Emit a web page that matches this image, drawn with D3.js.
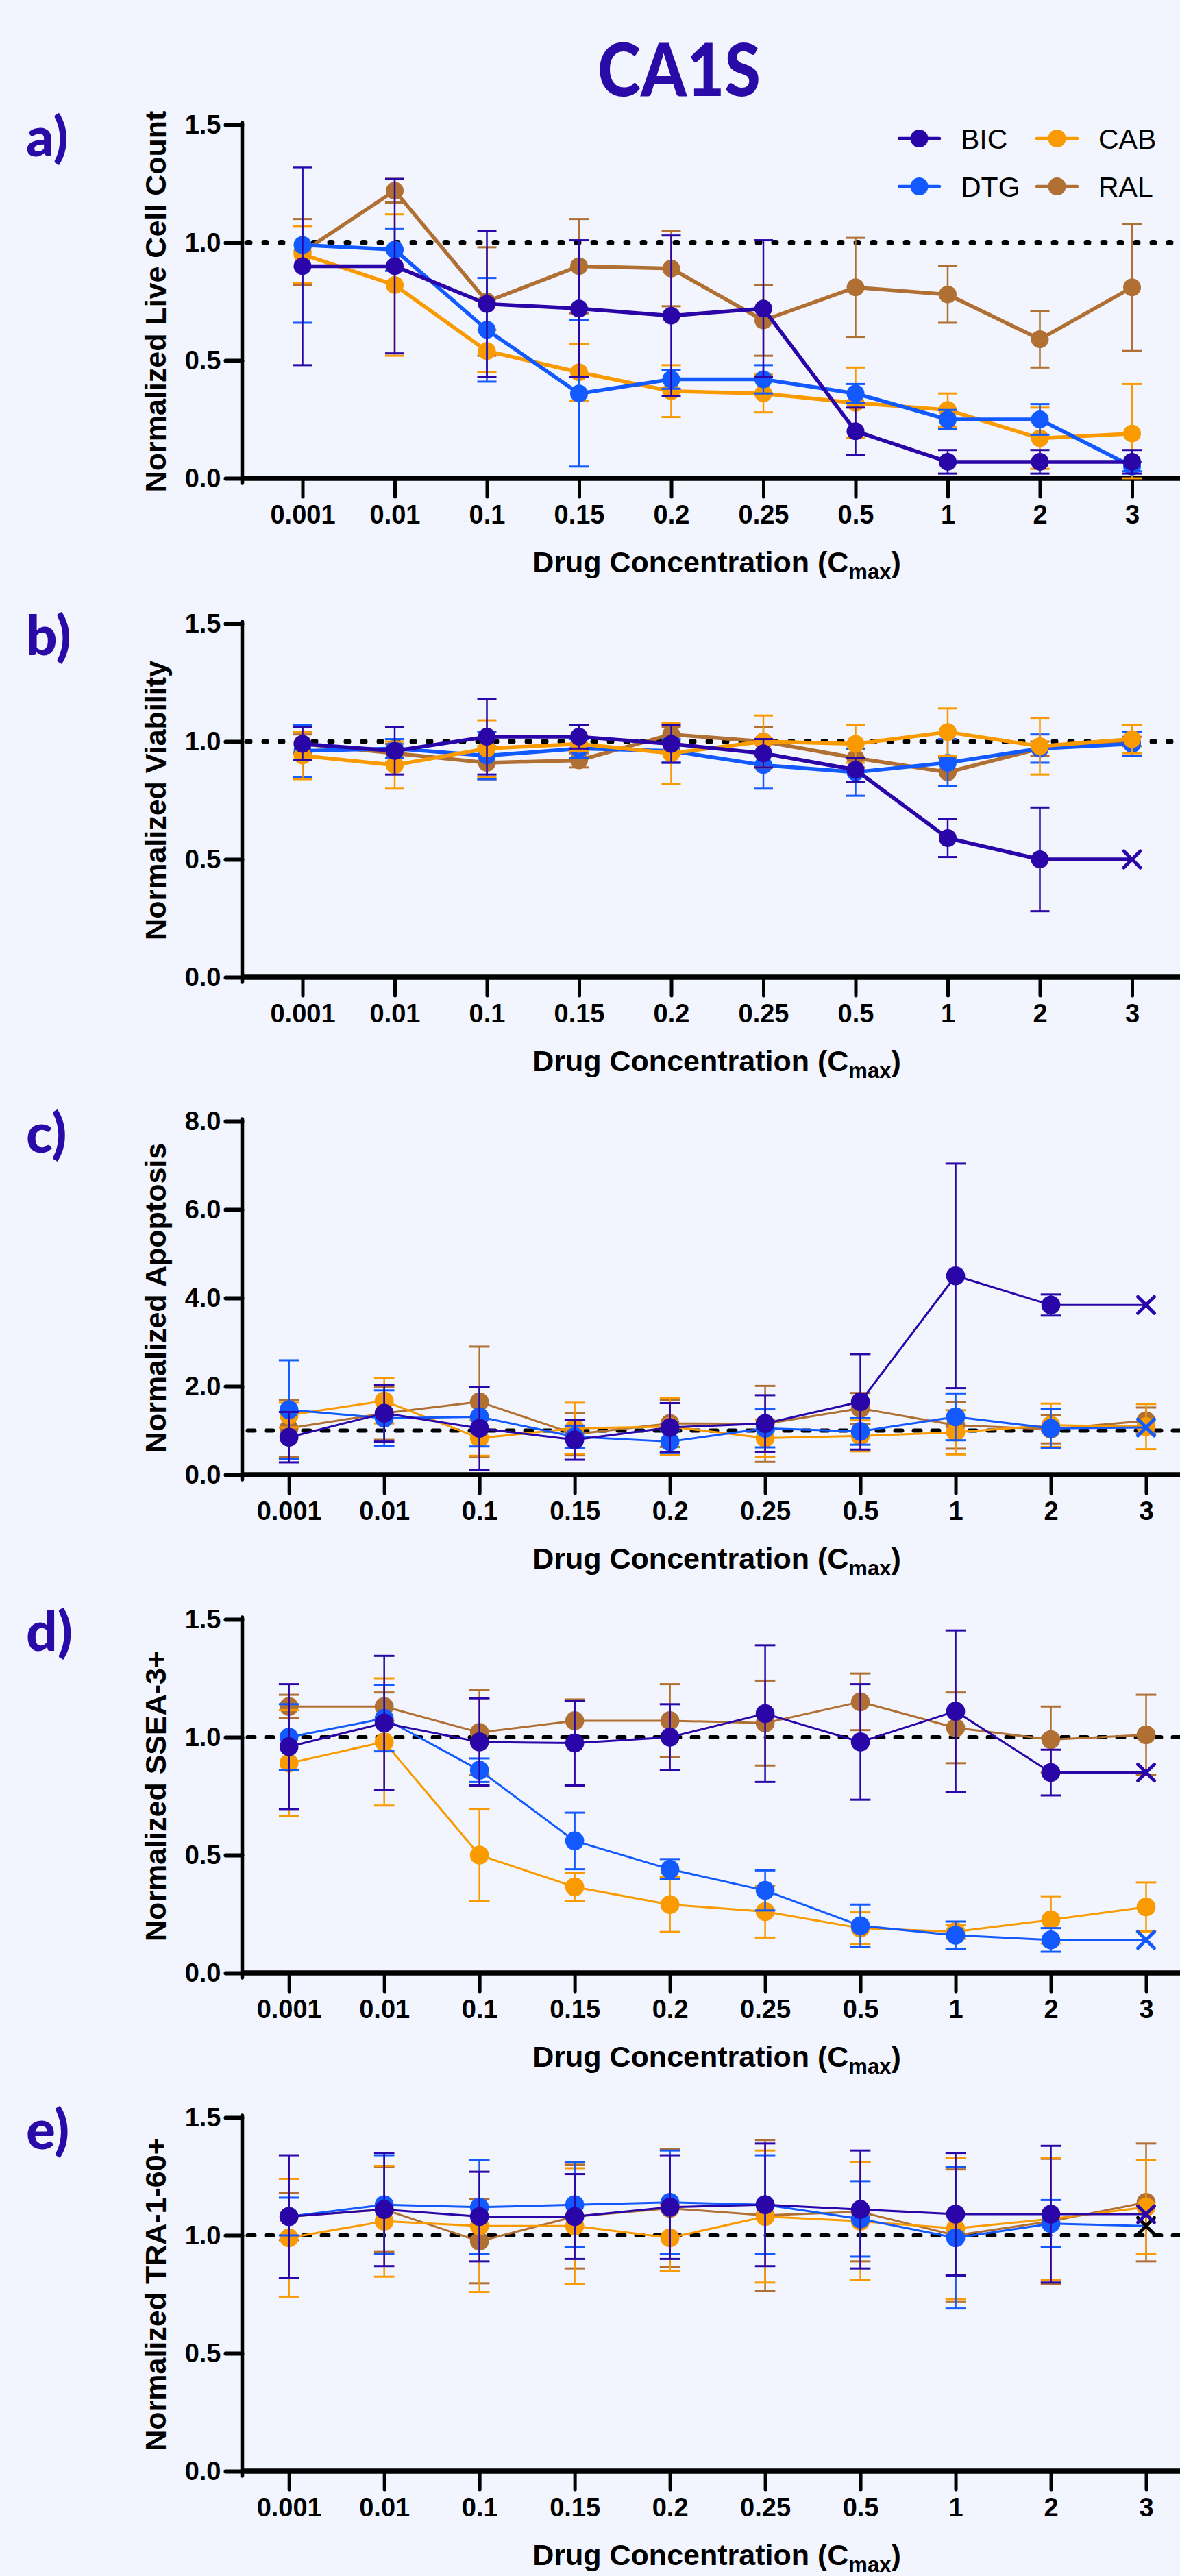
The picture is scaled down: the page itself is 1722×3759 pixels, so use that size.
<!DOCTYPE html>
<html><head><meta charset="utf-8">
<script src="https://cdn.jsdelivr.net/npm/d3@7"></script>
<style>
html,body{margin:0;padding:0;background:#F2F5FE;}
svg{display:block;}
</style></head><body>
<svg id="chart" width="1722" height="3759"></svg>
<script>
// ---------- DATA ----------
const categories = ["0.001","0.01","0.1","0.15","0.2","0.25","0.5","1","2","3"];
const seriesNames = ["BIC","DTG","CAB","RAL"];
const chartTitle = "CA1S";
const xAxisTitle = ["Drug Concentration (C", "max", ")"];

// a) Normalized Live Cell Count
const liveBIC    = [0.90,0.90,0.74,0.72,0.69,0.72,0.20,0.07,0.07,0.07];
const liveBICErr = [0.42,0.37,0.31,0.29,0.34,0.29,0.10,0.05,0.05,0.05];
const liveDTG    = [0.99,0.97,0.63,0.36,0.42,0.42,0.36,0.25,0.25,0.05];
const liveDTGErr = [0.33,0.09,0.22,0.31,0.04,0.06,0.04,0.04,0.065,0.02];
const liveCAB    = [0.95,0.82,0.54,0.45,0.37,0.36,0.32,0.29,0.17,0.19];
const liveCABErr = [0.12,0.30,0.09,0.12,0.11,0.08,0.15,0.07,0.13,0.21];
const liveRAL    = [0.96,1.22,0.75,0.90,0.89,0.67,0.81,0.78,0.59,0.81];
const liveRALErr = [0.14,0.05,0.23,0.20,0.16,0.15,0.21,0.12,0.12,0.27];

// b) Normalized Viability
const viaBIC    = [0.99,0.96,1.02,1.02,0.99,0.95,0.88,0.59,0.50,0.50];
const viaBICErr = [0.07,0.10,0.16,0.05,0.08,0.06,0.05,0.08,0.22,null];
const viaDTG    = [0.96,0.97,0.94,0.97,0.96,0.90,0.87,0.91,0.97,0.99];
const viaDTGErr = [0.11,0.04,0.10,0.04,0.05,0.10,0.10,0.10,0.06,0.05];
const viaCAB    = [0.94,0.90,0.97,0.99,0.95,1.00,0.99,1.04,0.98,1.01];
const viaCABErr = [0.10,0.10,0.12,0.03,0.13,0.11,0.08,0.10,0.12,0.06];
const viaRAL    = [0.99,0.95,0.91,0.92,1.03,1.00,0.93,0.87,0.97,1.00];
const viaRALErr = [0.04,0.04,0.07,0.03,0.03,0.06,0.04,0.06,0.03,0.02];

// c) Normalized Apoptosis
const apoBIC    = [0.85,1.39,1.05,0.79,1.07,1.16,1.65,4.50,3.84,3.84];
const apoBICErr = [0.57,0.64,0.94,0.45,0.55,0.64,1.08,2.54,0.24,null];
const apoDTG    = [1.47,1.28,1.31,0.86,0.75,1.05,0.98,1.31,1.05,1.07];
const apoDTGErr = [1.12,0.63,0.67,0.25,0.26,0.43,0.30,0.53,0.44,null];
const apoCAB    = [1.35,1.67,0.83,1.05,1.09,0.83,0.88,0.96,1.12,1.09];
const apoCABErr = [0.28,0.51,0.40,0.58,0.64,0.42,0.35,0.50,0.49,0.51];
const apoRAL    = [1.05,1.39,1.65,0.92,1.16,1.15,1.50,1.12,1.03,1.22];
const apoRALErr = [0.64,0.60,1.25,0.48,0.53,0.86,0.35,0.53,0.32,0.30];

// d) Normalized SSEA-3+
const sseaBIC    = [0.96,1.06,0.98,0.975,1.00,1.10,0.98,1.11,0.85,0.85];
const sseaBICErr = [0.265,0.285,0.185,0.18,0.14,0.29,0.245,0.343,0.097,null];
const sseaDTG    = [1.00,1.08,0.86,0.56,0.44,0.35,0.20,0.16,0.14,0.14];
const sseaDTGErr = [0.14,0.14,0.05,0.12,0.043,0.085,0.09,0.058,0.05,null];
const sseaCAB    = [0.89,0.98,0.50,0.365,0.29,0.26,0.19,0.175,0.225,0.28];
const sseaCABErr = [0.225,0.27,0.196,0.06,0.116,0.11,0.067,0.03,0.10,0.104];
const sseaRAL    = [1.13,1.13,1.02,1.07,1.07,1.06,1.15,1.04,0.99,1.01];
const sseaRALErr = [0.05,0.06,0.18,0.09,0.155,0.18,0.12,0.15,0.14,0.17];

// e) Normalized TRA-1-60+
const traBIC    = [1.08,1.11,1.08,1.08,1.12,1.13,1.11,1.09,1.09,1.09];
const traBICErr = [0.26,0.24,0.19,0.18,0.22,0.26,0.25,0.26,0.29,null];
const traDTG    = [1.08,1.13,1.12,1.13,1.14,1.13,1.07,0.99,1.05,1.04];
const traDTGErr = [0.08,0.21,0.20,0.18,0.22,0.21,0.16,0.30,0.10,null];
const traCAB    = [0.99,1.06,1.04,1.04,0.99,1.08,1.06,1.03,1.07,1.12];
const traCABErr = [0.25,0.235,0.28,0.245,0.14,0.28,0.25,0.30,0.26,0.20];
const traRAL    = [1.08,1.11,0.975,1.08,1.115,1.085,1.10,1.00,1.06,1.14];
const traRALErr = [0.10,0.18,0.178,0.22,0.25,0.32,0.21,0.28,0.265,0.25];

const yTicksRatio = [0, 0.5, 1.0, 1.5];
const yTicksApo = [0, 2, 4, 6, 8];

const panels = [
  {label:"a)", yTitle:"Normalized Live Cell Count", yMax:1.5, ticks:yTicksRatio,
   vals:{BIC:liveBIC,DTG:liveDTG,CAB:liveCAB,RAL:liveRAL},
   errs:{BIC:liveBICErr,DTG:liveDTGErr,CAB:liveCABErr,RAL:liveRALErr},
   crossLast:{}, order:["RAL","CAB","DTG","BIC"], legend:true},
  {label:"b)", yTitle:"Normalized Viability", yMax:1.5, ticks:yTicksRatio,
   vals:{BIC:viaBIC,DTG:viaDTG,CAB:viaCAB,RAL:viaRAL},
   errs:{BIC:viaBICErr,DTG:viaDTGErr,CAB:viaCABErr,RAL:viaRALErr},
   crossLast:{BIC:true}, order:["RAL","DTG","CAB","BIC"]},
  {label:"c)", yTitle:"Normalized Apoptosis", yMax:8, ticks:yTicksApo,
   vals:{BIC:apoBIC,DTG:apoDTG,CAB:apoCAB,RAL:apoRAL},
   errs:{BIC:apoBICErr,DTG:apoDTGErr,CAB:apoCABErr,RAL:apoRALErr},
   crossLast:{BIC:true,DTG:true}, order:["RAL","CAB","DTG","BIC"]},
  {label:"d)", yTitle:"Normalized SSEA-3+", yMax:1.5, ticks:yTicksRatio,
   vals:{BIC:sseaBIC,DTG:sseaDTG,CAB:sseaCAB,RAL:sseaRAL},
   errs:{BIC:sseaBICErr,DTG:sseaDTGErr,CAB:sseaCABErr,RAL:sseaRALErr},
   crossLast:{BIC:true,DTG:true}, order:["RAL","CAB","DTG","BIC"]},
  {label:"e)", yTitle:"Normalized TRA-1-60+", yMax:1.5, ticks:yTicksRatio,
   vals:{BIC:traBIC,DTG:traDTG,CAB:traCAB,RAL:traRAL},
   errs:{BIC:traBICErr,DTG:traDTGErr,CAB:traCABErr,RAL:traRALErr},
   crossLast:{BIC:true,DTG:true}, crossColor:{DTG:"#000"}, order:["RAL","CAB","DTG","BIC"]}
];

// ---------- STYLE / LAYOUT ----------
const colors = {BIC:"#2A05A8", DTG:"#1259FF", CAB:"#F99A00", RAL:"#B06F33"};
const purple = "#2A0BA8";
const FONT = "'Liberation Sans', Arial, Helvetica, sans-serif";
const layout = [
  {top:182,  zero:698,  x0:441.5, x1:1652, lw:5.5, refW:8,   refDash:"3 21", r:13},
  {top:910,  zero:1426, x0:441.5, x1:1652, lw:5.5, refW:8,   refDash:"3 21", r:13},
  {top:1636, zero:2152, x0:421.7, x1:1672.5, lw:3, refW:6, refDash:"10 17", r:13.8},
  {top:2363, zero:2879, x0:421.7, x1:1672.5, lw:3, refW:6, refDash:"10 17", r:13.8},
  {top:3090, zero:3606, x0:421.7, x1:1672.5, lw:3, refW:6, refDash:"10 17", r:13.8}
];
const AX = 353.5, RIGHT = 1722;

const svg = d3.select("#chart");
svg.append("rect").attr("width",1722).attr("height",3759).attr("fill","#F2F5FE");

svg.append("text").attr("x",991).attr("y",140).attr("text-anchor","middle")
  .attr("font-family","Lato, 'Open Sans', sans-serif").attr("font-weight","900")
  .attr("font-size",106).attr("fill",purple)
  .attr("textLength",238).attr("lengthAdjust","spacingAndGlyphs").text(chartTitle);

panels.forEach((p,i)=>{
  const L = layout[i];
  const g = svg.append("g");
  const x = d3.scalePoint().domain(categories).range([L.x0, L.x1]);
  const y = d3.scaleLinear().domain([0,p.yMax]).range([L.zero, L.top]);

  // panel label
  g.append("text").attr("x",38).attr("y",L.top+46)
    .attr("font-family","Lato, 'Open Sans', sans-serif").attr("font-weight","900")
    .attr("font-size",80).attr("fill",purple).text(p.label);

  // y title
  g.append("text").attr("transform",`translate(242,${(L.top+L.zero)/2}) rotate(-90)`)
    .attr("text-anchor","middle").attr("font-family",FONT).attr("font-weight","bold")
    .attr("font-size",43).attr("fill","#000").text(p.yTitle);

  // reference line at 1
  g.append("line").attr("x1",AX+8).attr("x2",RIGHT+10).attr("y1",y(1)).attr("y2",y(1))
    .attr("stroke","#000").attr("stroke-width",L.refW).attr("stroke-dasharray",L.refDash)
    .attr("stroke-linecap","round");

  // y axis
  const ya = g.append("g").attr("transform",`translate(${AX},0)`)
    .call(d3.axisLeft(y).tickValues(p.ticks).tickFormat(d3.format(".1f")).tickSize(24).tickPadding(7));
  ya.select(".domain").remove();
  ya.selectAll(".tick line").attr("stroke","#000").attr("stroke-width",6).attr("stroke-linecap","round");
  ya.selectAll(".tick text").attr("font-family",FONT).attr("font-weight","bold")
    .attr("font-size",38).attr("fill","#000");
  g.append("line").attr("x1",AX).attr("x2",AX).attr("y1",y(p.yMax)-3).attr("y2",L.zero+7)
    .attr("stroke","#000").attr("stroke-width",5.5).attr("stroke-linecap","round");

  // x axis
  const xa = g.append("g").attr("transform",`translate(0,${L.zero})`)
    .call(d3.axisBottom(x).tickSize(27).tickPadding(12));
  xa.select(".domain").remove();
  xa.selectAll(".tick line").attr("stroke","#000").attr("stroke-width",5).attr("stroke-linecap","round");
  xa.selectAll(".tick text").attr("font-family",FONT).attr("font-weight","bold")
    .attr("font-size",38).attr("fill","#000");
  g.append("line").attr("x1",AX).attr("x2",RIGHT+10).attr("y1",L.zero).attr("y2",L.zero)
    .attr("stroke","#000").attr("stroke-width",7.5);

  // x title
  const t = g.append("text").attr("x",1046).attr("y",L.zero+137).attr("text-anchor","middle")
    .attr("font-family",FONT).attr("font-weight","bold").attr("font-size",43).attr("fill","#000");
  t.append("tspan").text(xAxisTitle[0]);
  t.append("tspan").attr("font-size",31).attr("dy",10).text(xAxisTitle[1]);
  t.append("tspan").attr("dy",-10).text(xAxisTitle[2]);

  // series
  p.order.forEach(name=>{
    const vals = p.vals[name], errs = p.errs[name], col = colors[name];
    const pts = categories.map((c,k)=>({c, v:vals[k], e:errs[k], last:k===categories.length-1}));
    const sg = g.append("g");
    const eb = pts.filter(d=>d.e!=null && !(d.last && p.crossLast[name]));
    const capW = L.r+1;
    eb.forEach(d=>{
      const lo = Math.max(0, d.v-d.e), hi = d.v+d.e;
      sg.append("line").attr("x1",x(d.c)).attr("x2",x(d.c)).attr("y1",y(lo)).attr("y2",y(hi))
        .attr("stroke",col).attr("stroke-width",2.5);
      [lo,hi].forEach(v=>{
        sg.append("line").attr("x1",x(d.c)-capW).attr("x2",x(d.c)+capW).attr("y1",y(v)).attr("y2",y(v))
          .attr("stroke",col).attr("stroke-width",3);
      });
    });
    sg.append("path").datum(pts)
      .attr("d", d3.line().x(d=>x(d.c)).y(d=>y(d.v)))
      .attr("fill","none").attr("stroke",col).attr("stroke-width",L.lw).attr("stroke-linejoin","round");
    pts.forEach(d=>{
      if (d.last && p.crossLast[name]) {
        const cc = (p.crossColor && p.crossColor[name]) || col;
        const s = 12;
        sg.append("path").attr("transform",`translate(${x(d.c)},${y(d.v)})`)
          .attr("d",`M${-s},${-s}L${s},${s}M${-s},${s}L${s},${-s}`)
          .attr("stroke",cc).attr("stroke-width",5).attr("stroke-linecap","round").attr("fill","none");
      } else {
        sg.append("circle").attr("cx",x(d.c)).attr("cy",y(d.v)).attr("r",L.r).attr("fill",col);
      }
    });
  });

  // legend
  if (p.legend) {
    const items = [
      {name:"BIC", lx:1312, ty:202}, {name:"CAB", lx:1513, ty:202},
      {name:"DTG", lx:1312, ty:272}, {name:"RAL", lx:1513, ty:272}
    ];
    const lg = g.append("g");
    items.forEach(it=>{
      lg.append("line").attr("x1",it.lx).attr("x2",it.lx+59).attr("y1",it.ty).attr("y2",it.ty)
        .attr("stroke",colors[it.name]).attr("stroke-width",4.5).attr("stroke-linecap","round");
      lg.append("circle").attr("cx",it.lx+29.5).attr("cy",it.ty).attr("r",13).attr("fill",colors[it.name]);
      lg.append("text").attr("x",it.lx+90).attr("y",it.ty+15).attr("font-family",FONT)
        .attr("font-size",41).attr("fill","#000").text(it.name);
    });
  }
});
</script>
</body></html>
